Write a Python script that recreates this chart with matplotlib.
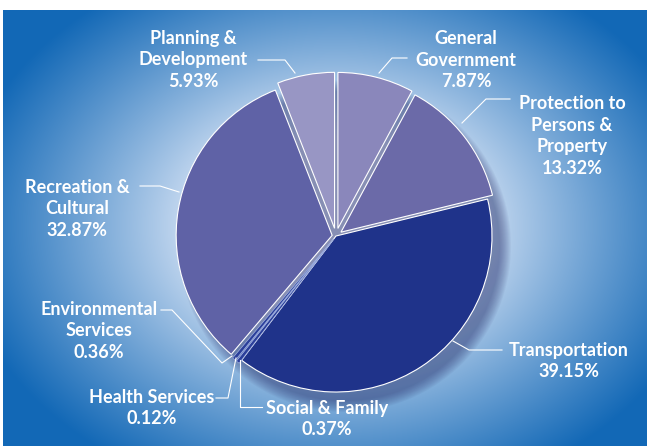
import numpy as np
import matplotlib
matplotlib.use("Agg")
import matplotlib.pyplot as plt
from matplotlib.patches import Circle

# ---- data ----
categories = ['General\nGovernment', 'Protection to\nPersons &\nProperty', 'Transportation',
              'Social & Family', 'Health Services', 'Environmental\nServices',
              'Recreation &\nCultural', 'Planning &\nDevelopment']
shares = [7.87, 13.32, 39.15, 0.37, 0.12, 0.36, 32.87, 5.93]
colors = ['#8a87bb', '#6b6aa8', '#1f338a', '#2b3f9a', '#34489f', '#2b3f9a', '#5f62a6', '#9896c4']
explode = [0.05, 0.04, 0.0, 0.025, 0.025, 0.025, 0.025, 0.05]

# label block centres (image pixels, y down)
label_pos = [(466, 60), (572, 136), (569, 361), (327, 419), (152, 408), (99, 331), (77, 209), (193, 60)]
# leader lines (image pixels, y down)
leaders = [
    [(407, 58), (392, 58), (379, 73)],
    [(510, 99), (486, 99), (462, 123)],
    [(502, 350), (469, 350), (453, 341)],
    [(262, 407), (240, 407), (240, 360)],
    [(216, 398), (228, 398), (236, 358)],
    [(161, 310), (172, 310), (222, 363), (232, 356)],
    [(140, 186), (160, 186), (179, 192)],
    [(258, 60), (285, 60), (295, 73)],
]

W, H = 647, 446
cx, cy, R = 336, 236, 156

fig = plt.figure(figsize=(W / 100, H / 100), dpi=100)
fig.patch.set_facecolor('white')
ax = fig.add_axes([0, 0, 1, 1])

# background radial gradient
top, left = 10, 3
xs = np.arange(left, W) + 0.5
ys = np.arange(top, H) + 0.5
X, Y = np.meshgrid(xs, ys)
t = np.sqrt(((X - cx) / 400.0) ** 2 + ((Y - cy + 10) / 300.0) ** 2)
s = np.clip((t - 0.30) / (0.95 - 0.30), 0, 1)
s = s ** 0.9
c0 = np.array([228, 236, 250]) / 255.0
c1 = np.array([18, 104, 182]) / 255.0
img = c0[None, None, :] * (1 - s[..., None]) + c1[None, None, :] * s[..., None]
ax.imshow(img, extent=(left, W, 0, H - top), origin='upper', zorder=0, aspect='auto')

# soft shadow toward lower right
for k in range(12):
    ax.add_patch(Circle((cx + 9, H - cy - 10), R + 10 - k, color='#27306e', alpha=0.05, lw=0, zorder=0.5))

wedges, _ = ax.pie(shares, startangle=90, counterclock=False, explode=[e * R for e in explode],
                   center=(cx, H - cy), radius=R, colors=colors,
                   wedgeprops=dict(edgecolor='white', linewidth=0.8))
# thin slices: light blue edges so the dark strips stay visible
for w in wedges[3:6]:
    w.set_edgecolor('#9fb0e0')
    w.set_linewidth(0.5)

for cat, val, (lx, ly) in zip(categories, shares, label_pos):
    ax.text(lx, H - ly, f"{cat}\n{val:.2f}%", ha='center', va='center', multialignment='center',
            color='white', fontsize=13, fontweight='bold', linespacing=1.33,
            family=['Lato', 'DejaVu Sans'], zorder=5)

for pts in leaders:
    px = [p[0] for p in pts]
    py = [H - p[1] for p in pts]
    ax.plot(px, py, color='white', lw=0.8, zorder=4)

ax.set_xlim(0, W)
ax.set_ylim(0, H)
ax.set_aspect('equal')
ax.axis('off')

fig.savefig('out.png', dpi=100, facecolor='white')
